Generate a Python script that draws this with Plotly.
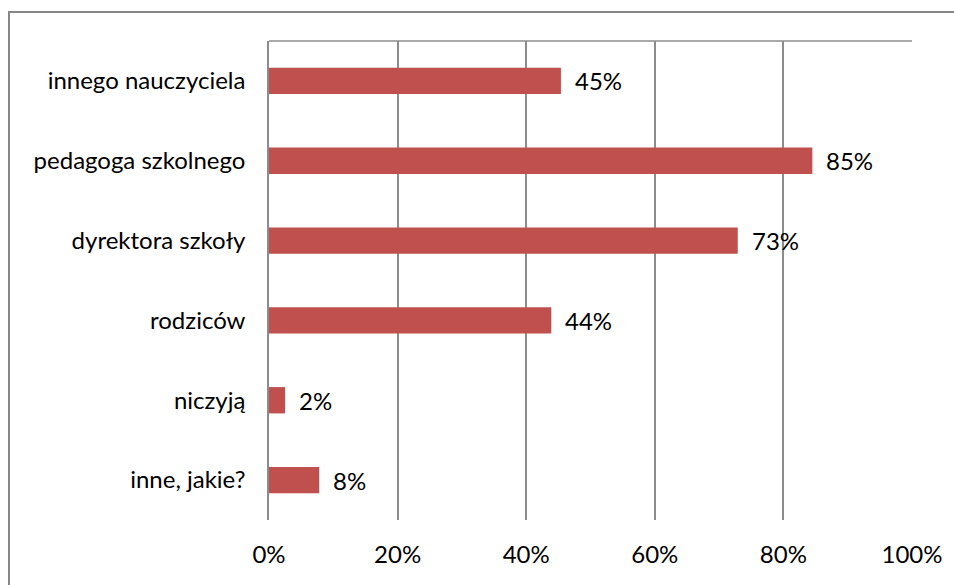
import plotly.graph_objects as go

categories = ["innego nauczyciela", "pedagoga szkolnego", "dyrektora szkoły", "rodziców", "niczyją", "inne, jakie?"]
values = [0.454, 0.845, 0.729, 0.439, 0.025, 0.078]
labels = ["45%", "85%", "73%", "44%", "2%", "8%"]
tick_vals = [0, 0.2, 0.4, 0.6, 0.8, 1.0]
tick_text = ["0%", "20%", "40%", "60%", "80%", "100%"]

GRID = "#8c8c8c"
FONT = "Lato"
FS = 24

fig = go.Figure(go.Bar(
    y=categories, x=values, orientation="h",
    marker=dict(color="#C0504D", line=dict(width=0)),
    hoverinfo="skip",
))

for c, v, t in zip(categories, values, labels):
    fig.add_annotation(x=v, y=c, text=t, showarrow=False, xanchor="left",
                       xshift=12, font=dict(family=FONT, size=FS, color="#000000"))

fig.update_layout(
    width=954, height=585,
    margin=dict(l=269, r=42, t=41, b=65),
    paper_bgcolor="white", plot_bgcolor="white",
    bargap=0.67, showlegend=False,
    font=dict(family=FONT, size=FS, color="#000000"),
    xaxis=dict(range=[0, 1], tickvals=tick_vals, ticktext=tick_text,
               showgrid=True, gridcolor=GRID, gridwidth=1.5,
               zeroline=False, showline=False, ticks="",
               ticklabelstandoff=18, fixedrange=True, automargin=False),
    yaxis=dict(autorange="reversed", showgrid=False, showline=True,
               linecolor=GRID, linewidth=1.5, ticks="",
               ticklabelstandoff=17, fixedrange=True, automargin=False),
    shapes=[
        dict(type="line", xref="x domain", yref="y domain", x0=0, x1=1, y0=1, y1=1,
             line=dict(color=GRID, width=1.5)),
        dict(type="rect", xref="paper", yref="paper",
             x0=(9 - 269) / 643, x1=(970 - 269) / 643,
             y0=(520 - 600) / 479, y1=(520 - 12) / 479,
             line=dict(color="#868686", width=2), fillcolor="rgba(0,0,0,0)"),
    ],
)

fig.write_html("out.html", config={"displayModeBar": False},
               post_script="document.body.style.margin='0';")
